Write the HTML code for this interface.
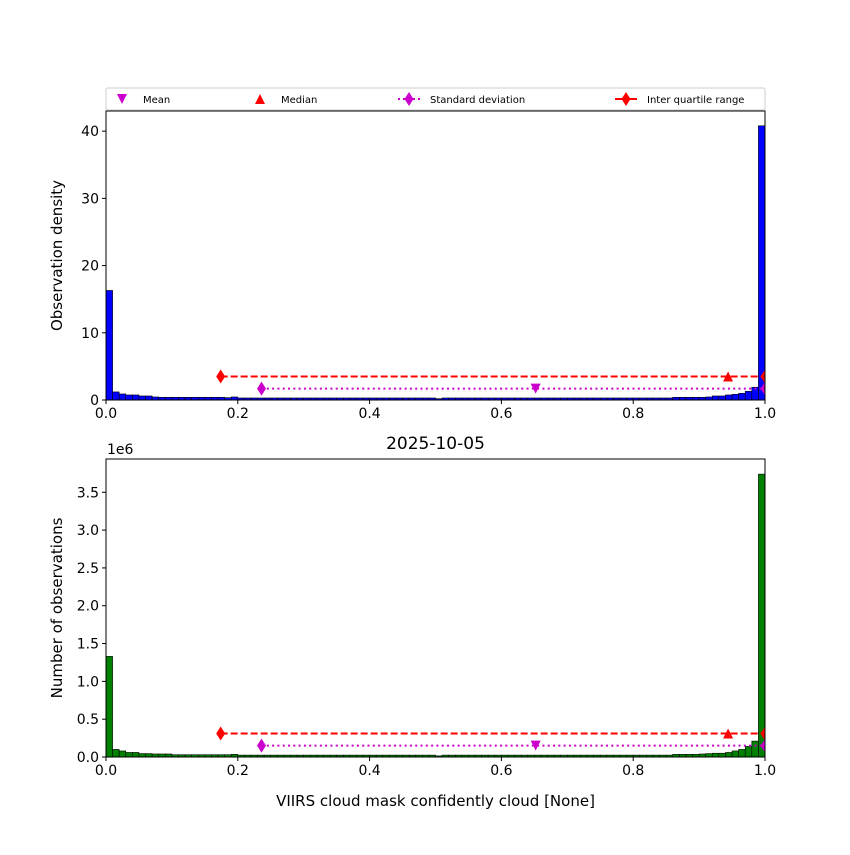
<!DOCTYPE html>
<html><head><meta charset="utf-8"><style>
body{margin:0;background:#fff;}
svg{font-family:"DejaVu Sans","Liberation Sans",sans-serif;}
</style></head><body>
<svg id="chart" width="850" height="850" xmlns="http://www.w3.org/2000/svg"></svg>
<script>
const densityTop = [16.3,1.2,0.9,0.75,0.75,0.6,0.6,0.45,0.4,0.4,
0.4,0.4,0.4,0.4,0.4,0.4,0.4,0.4,0.35,0.45,
0.3,0.3,0.3,0.3,0.3,0.3,0.3,0.3,0.3,0.3,
0.3,0.3,0.3,0.3,0.3,0.3,0.3,0.3,0.3,0.3,
0.3,0.3,0.3,0.3,0.3,0.3,0.3,0.3,0.3,0.3,
0.2,0.3,0.3,0.3,0.3,0.3,0.3,0.3,0.3,0.3,
0.3,0.3,0.3,0.3,0.3,0.3,0.3,0.3,0.3,0.3,
0.3,0.3,0.3,0.3,0.3,0.3,0.3,0.3,0.3,0.3,
0.3,0.3,0.3,0.3,0.3,0.3,0.4,0.4,0.4,0.4,
0.4,0.45,0.6,0.6,0.75,0.85,1.0,1.3,1.9,40.8];
const countsBottom = [1.33,0.10,0.08,0.06,0.06,0.045,0.045,0.04,0.04,0.04,
0.03,0.03,0.03,0.03,0.03,0.03,0.03,0.03,0.03,0.035,
0.025,0.025,0.025,0.025,0.025,0.025,0.025,0.025,0.025,0.025,
0.025,0.025,0.025,0.025,0.025,0.025,0.025,0.025,0.025,0.025,
0.025,0.025,0.025,0.025,0.025,0.025,0.025,0.025,0.025,0.025,
0.015,0.025,0.025,0.025,0.025,0.025,0.025,0.025,0.025,0.025,
0.025,0.025,0.025,0.025,0.025,0.025,0.025,0.025,0.025,0.025,
0.025,0.025,0.025,0.025,0.025,0.025,0.025,0.025,0.025,0.025,
0.025,0.025,0.025,0.025,0.025,0.025,0.035,0.035,0.035,0.035,
0.04,0.045,0.05,0.05,0.06,0.08,0.1,0.14,0.21,3.74];
const statMean = 0.652, statMedian = 0.944, stdLo = 0.236, stdHi = 1.0, iqrLo = 0.174, iqrHi = 1.0;
const topStdY = 1.7, topIqrY = 3.5, botStdY = 0.15, botIqrY = 0.31;
const xTicks = [0,0.2,0.4,0.6,0.8,1.0];
const xTickLabels = ["0.0","0.2","0.4","0.6","0.8","1.0"];
const topYTicks = [0,10,20,30,40];
const botYTicks = [0,0.5,1.0,1.5,2.0,2.5,3.0,3.5];
const botYLabels = ["0.0","0.5","1.0","1.5","2.0","2.5","3.0","3.5"];

const NS="http://www.w3.org/2000/svg";
const svg=document.getElementById('chart');
function mk(tag,attrs,parent){const e=document.createElementNS(NS,tag);for(const k in attrs)e.setAttribute(k,attrs[k]);(parent||svg).appendChild(e);return e;}
const X0=106,X1=765;
const xs=v=>X0+(X1-X0)*v;

function panel(name,data,color,yTop,yBot,yMax,yticks,ylabels,ylabel,stdY,iqrY){
  const g=mk('g',{});
  
  
  const ys=v=>yBot-(yBot-yTop)*v/yMax;
  const clipId=name+'-clip';
  const cp=mk('clipPath',{id:clipId},g);mk('rect',{x:X0,y:yTop,width:X1-X0,height:yBot-yTop},cp);
  const bars=mk('g',{'clip-path':'url(#'+clipId+')'},g);
  data.forEach((v,i)=>{
    const r=mk('rect',{x:xs(i/100),y:ys(v),width:(X1-X0)/100,height:yBot-ys(v),fill:color,stroke:'#000','stroke-width':0.6},bars);
    
    
  });
  const st=mk('g',{'clip-path':'url(#'+clipId+')'},g);
  mk('line',{x1:xs(iqrLo),x2:xs(iqrHi),y1:ys(iqrY),y2:ys(iqrY),stroke:'red','stroke-width':2,'stroke-dasharray':'7,3'},st);
  mk('line',{x1:xs(stdLo),x2:xs(stdHi),y1:ys(stdY),y2:ys(stdY),stroke:'#c0c','stroke-width':2,'stroke-dasharray':'2,3.3'},st);
  const dia=(x,y,c)=>mk('path',{d:`M${x},${y-7}L${x+4.5},${y}L${x},${y+7}L${x-4.5},${y}Z`,fill:c},st);
  dia(xs(iqrLo),ys(iqrY),'red');dia(xs(iqrHi),ys(iqrY),'red');
  dia(xs(stdLo),ys(stdY),'#c0c');dia(xs(stdHi),ys(stdY),'#c0c');
  const mx=xs(statMean),my=ys(stdY);
  const m=mk('path',{d:`M${mx-5},${my-5}L${mx+5},${my-5}L${mx},${my+5}Z`,fill:'#c0c'},st);
  
  const dx=xs(statMedian),dy=ys(iqrY);
  const md=mk('path',{d:`M${dx-5},${dy+5}L${dx+5},${dy+5}L${dx},${dy-5}Z`,fill:'red'},st);
  
  mk('rect',{x:X0,y:yTop,width:X1-X0,height:yBot-yTop,fill:'none',stroke:'#000','stroke-width':1},g);
  xTicks.forEach((t,i)=>{
    mk('line',{x1:xs(t),x2:xs(t),y1:yBot,y2:yBot+4,stroke:'#000'},g);
    const tx=mk('text',{x:xs(t),y:yBot+18,'text-anchor':'middle','font-size':14},g);tx.textContent=xTickLabels[i];
  });
  yticks.forEach((t,i)=>{
    mk('line',{x1:X0-4,x2:X0,y1:ys(t),y2:ys(t),stroke:'#000'},g);
    const tx=mk('text',{x:X0-7,y:ys(t)+5,'text-anchor':'end','font-size':14},g);tx.textContent=ylabels[i];
  });
  const yl=mk('text',{x:0,y:0,transform:`translate(62,${(yTop+yBot)/2}) rotate(-90)`,'text-anchor':'middle','font-size':15},g);
  yl.textContent=ylabel;
  
}
panel('density-panel',densityTop,'#0000ff',111,400,43,topYTicks,topYTicks.map(String),'Observation density',topStdY,topIqrY);
panel('count-panel',countsBottom,'#008000',459,757,3.94,botYTicks,botYLabels,'Number of observations',botStdY,botIqrY);

let t=mk('text',{x:107,y:454,'font-size':14});t.textContent='1e6';
t=mk('text',{x:435.5,y:449,'text-anchor':'middle','font-size':17});t.textContent='2025-10-05';

t=mk('text',{x:435.5,y:806,'text-anchor':'middle','font-size':15});t.textContent='VIIRS cloud mask confidently cloud [None]';


const lg=mk('g',{});

mk('rect',{x:106,y:88,width:659,height:22,fill:'#fff',stroke:'#ccc',rx:2},lg);
mk('path',{d:'M117,94L127,94L122,104Z',fill:'#c0c'},lg);
t=mk('text',{x:143,y:103,'font-size':10},lg);t.textContent='Mean';
mk('path',{d:'M255,104L265,104L260,94Z',fill:'red'},lg);
t=mk('text',{x:281,y:103,'font-size':10},lg);t.textContent='Median';
mk('line',{x1:398,x2:420,y1:99,y2:99,stroke:'#c0c','stroke-width':2,'stroke-dasharray':'2,3'},lg);
mk('path',{d:'M409,92L413.5,99L409,106L404.5,99Z',fill:'#c0c'},lg);
t=mk('text',{x:430,y:103,'font-size':10},lg);t.textContent='Standard deviation';
mk('line',{x1:615,x2:637,y1:99,y2:99,stroke:'red','stroke-width':2},lg);
mk('path',{d:'M626,92L630.5,99L626,106L621.5,99Z',fill:'red'},lg);
t=mk('text',{x:647,y:103,'font-size':10},lg);t.textContent='Inter quartile range';
</script>
</body></html>
